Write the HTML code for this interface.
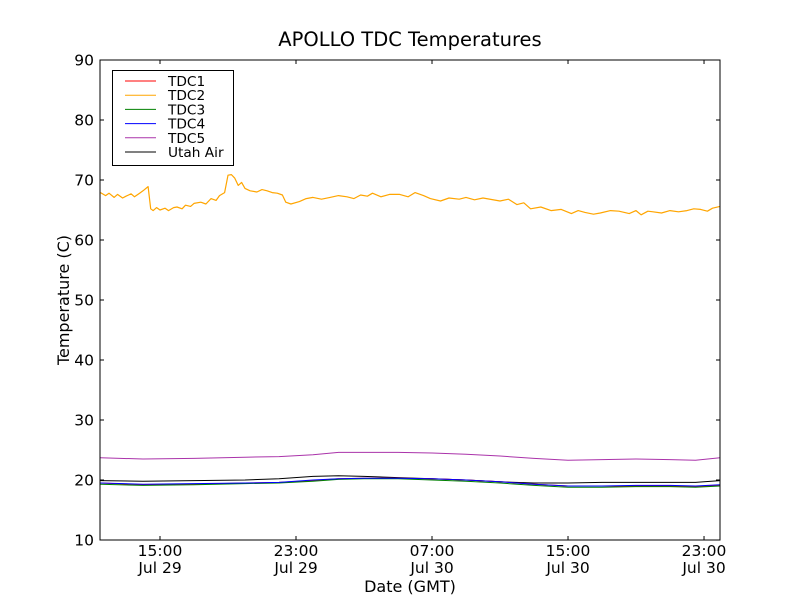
<!DOCTYPE html>
<html><head><meta charset="utf-8"><style>
body{margin:0;background:#fff;}
svg{display:block;font-family:"DejaVu Sans","Liberation Sans",sans-serif;}
</style></head><body>
<svg id="chart" width="800" height="600">
<rect width="800" height="600" fill="#fff"/>
<text x="410" y="46" font-size="19.5" text-anchor="middle">APOLLO TDC Temperatures</text>
<g id="plot"></g>
<g id="axes"></g>
<text x="410" y="592" font-size="16" text-anchor="middle">Date (GMT)</text>
<text transform="translate(69,300) rotate(-90)" font-size="16" text-anchor="middle">Temperature (C)</text>
<g id="legend"></g>
</svg>
<script>
// hours since Jul 29 00:00 GMT
const tdc2Hours=[11.5,11.8,12,12.3,12.5,12.8,13,13.3,13.5,13.8,14,14.3,14.45,14.6,14.8,15,15.3,15.5,15.8,16,16.3,16.5,16.8,17,17.4,17.7,18,18.3,18.5,18.8,19,19.2,19.4,19.6,19.8,20,20.3,20.7,21,21.3,21.6,21.9,22.2,22.4,22.7,23.2,23.6,24,24.5,25,25.5,26,26.4,26.8,27.2,27.5,28,28.5,29.1,29.6,30,30.5,30.9,31.5,32,32.6,33,33.5,34,35,35.5,36,36.4,36.8,37.4,38,38.6,39.2,39.6,40,40.5,40.9,41.5,42,42.6,43,43.3,43.7,44,44.5,45,45.5,46,46.4,46.8,47.2,47.5,47.94];
const tdc2Values=[67.9,67.4,67.8,67.1,67.6,67.0,67.3,67.7,67.2,67.8,68.2,68.9,65.2,64.9,65.4,65.0,65.3,64.9,65.4,65.5,65.2,65.8,65.6,66.1,66.3,66.0,66.9,66.6,67.4,67.9,70.8,70.9,70.3,69.1,69.6,68.6,68.2,68.0,68.4,68.2,67.9,67.8,67.5,66.3,66.0,66.4,66.9,67.1,66.8,67.1,67.4,67.2,66.9,67.5,67.3,67.8,67.2,67.6,67.6,67.2,67.9,67.4,66.9,66.5,67.0,66.8,67.1,66.7,67.0,66.5,66.8,65.9,66.2,65.2,65.5,64.9,65.1,64.4,64.9,64.6,64.3,64.5,64.9,64.8,64.4,64.9,64.2,64.8,64.7,64.5,64.9,64.7,64.9,65.2,65.1,64.8,65.3,65.6];
const lowHours=[11.5,14,17,20,22,24,25.5,27,29,31,33,35,37,39,41,43,45,46.5,47.94];
const tdc1Values=[19.5,19.2,19.3,19.5,19.6,19.9,20.2,20.3,20.3,20.2,20.0,19.7,19.3,19.0,19.0,19.0,19.0,18.9,19.1];
const tdc3Values=[19.3,19.1,19.2,19.4,19.5,19.8,20.1,20.2,20.2,20.0,19.8,19.5,19.1,18.8,18.8,18.9,18.9,18.8,19.0];
const tdc4Values=[19.5,19.3,19.4,19.5,19.6,20.0,20.2,20.3,20.3,20.2,20.0,19.7,19.3,19.0,19.0,19.1,19.1,19.0,19.2];
const tdc5Values=[23.7,23.5,23.6,23.8,23.9,24.2,24.6,24.6,24.6,24.5,24.3,24.0,23.6,23.3,23.4,23.5,23.4,23.3,23.7];
const airValues=[19.9,19.8,19.9,20.0,20.2,20.6,20.7,20.6,20.4,20.2,20.0,19.7,19.5,19.5,19.6,19.6,19.6,19.6,19.9];
const yTicks=[10,20,30,40,50,60,70,80,90];
const xTickHours=[15,23,31,39,47];
const xTickTimes=["15:00","23:00","07:00","15:00","23:00"];
const xTickDates=["Jul 29","Jul 29","Jul 30","Jul 30","Jul 30"];
const seriesNames=["TDC1","TDC2","TDC3","TDC4","TDC5","Utah Air"];
const seriesColors=["#ff0000","#ffa500","#008000","#0000ff","#aa33aa","#000000"];

const L=100,R=720,T=60,B=540,xMin=11.47,xMax=47.94,yMin=10,yMax=90;
const xs=h=>L+(h-xMin)/(xMax-xMin)*(R-L);
const ys=v=>B-(v-yMin)/(yMax-yMin)*(B-T);
const NS="http://www.w3.org/2000/svg";
function mk(tag,attrs,parent){const e=document.createElementNS(NS,tag);for(const k in attrs)e.setAttribute(k,attrs[k]);parent.appendChild(e);return e;}
const plot=document.getElementById('plot'),axes=document.getElementById('axes'),leg=document.getElementById('legend');

function line(hours,vals,color,name,w){
  const d=hours.map((h,i)=>(i?'L':'M')+xs(h).toFixed(1)+','+ys(vals[i]).toFixed(1)).join('');
  const p=mk('path',{d:d,fill:'none',stroke:color,'stroke-width':w,'stroke-linejoin':'round'},plot);
  
  
}
line(lowHours,tdc5Values,seriesColors[4],'tdc5-line',1);
line(lowHours,airValues,seriesColors[5],'utah-air-line',1);
line(lowHours,tdc1Values,seriesColors[0],'tdc1-line',1);
line(lowHours,tdc3Values,seriesColors[2],'tdc3-line',1);
line(lowHours,tdc4Values,seriesColors[3],'tdc4-line',1);
line(tdc2Hours,tdc2Values,seriesColors[1],'tdc2-line',1.2);

const frame=mk('rect',{x:L,y:T,width:R-L,height:B-T,fill:'none',stroke:'#000','stroke-width':1},axes);


yTicks.forEach(v=>{
  const y=ys(v);
  mk('line',{x1:L,x2:L+4,y1:y,y2:y,stroke:'#000'},axes);
  mk('line',{x1:R,x2:R-4,y1:y,y2:y,stroke:'#000'},axes);
  const t=mk('text',{x:L-6,y:y+5.5,'font-size':15.5,'text-anchor':'end'},axes);
  t.textContent=v;
  
  
});
xTickHours.forEach((h,i)=>{
  const x=xs(h);
  mk('line',{x1:x,x2:x,y1:B,y2:B-4,stroke:'#000'},axes);
  mk('line',{x1:x,x2:x,y1:T,y2:T+4,stroke:'#000'},axes);
  const t=mk('text',{x:x,y:556,'font-size':15.5,'text-anchor':'middle'},axes);
  t.textContent=xTickTimes[i];
  
  
  const t2=mk('text',{x:x,y:573,'font-size':15.5,'text-anchor':'middle'},axes);
  t2.textContent=xTickDates[i];
  
  
});
mk('rect',{x:112.5,y:70.5,width:121,height:95,fill:'#fff',stroke:'#000'},leg);
seriesNames.forEach((n,i)=>{
  const y=81+i*14.2;
  const g=mk('g',{},leg);
  
  
  mk('line',{x1:125,x2:156,y1:y,y2:y,stroke:seriesColors[i],'stroke-width':1},g);
  const t=mk('text',{x:168,y:y+5,'font-size':13.7},g);
  t.textContent=n;
});
</script>
</body></html>
